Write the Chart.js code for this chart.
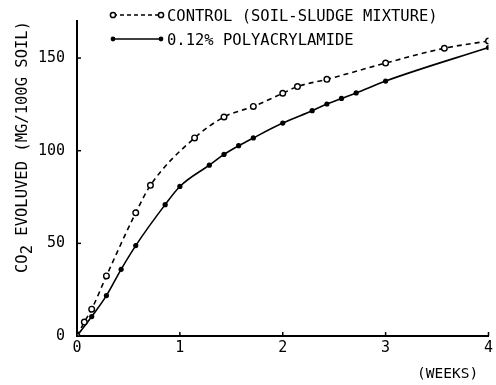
<!DOCTYPE html>
<html>
<head>
<meta charset="utf-8">
<script src="https://cdn.jsdelivr.net/npm/chart.js@4/dist/chart.umd.min.js"></script>
<style>
html,body{margin:0;padding:0;background:#fff;}
#wrap{width:496px;height:385px;position:relative;}
</style>
</head>
<body>
<div id="wrap"><canvas id="c" width="496" height="385"></canvas></div>
<script>
// Data (x in weeks, y in mg CO2 / 100 g soil)
const weeksControl = [0, 0.071, 0.143, 0.286, 0.571, 0.714, 1.143, 1.429, 1.714, 2.0, 2.143, 2.429, 3.0, 3.571, 4.0];
const co2Control   = [0, 7.5, 14.5, 32.4, 66.5, 81.3, 106.9, 118.2, 123.9, 131.0, 134.6, 138.5, 147.3, 155.3, 159.2];
const weeksPolymer = [0, 0.143, 0.286, 0.429, 0.571, 0.857, 1.0, 1.286, 1.429, 1.571, 1.714, 2.0, 2.286, 2.429, 2.571, 2.714, 3.0, 4.0];
const co2Polymer   = [0, 10.5, 21.8, 36.0, 48.8, 70.9, 80.7, 92.2, 98.0, 102.7, 106.9, 114.9, 121.6, 125.2, 128.2, 131.2, 137.6, 155.7];
const xTickValues = [0, 1, 2, 3, 4];
const yTickValues = [0, 50, 100, 150];
const seriesNames = ["CONTROL (SOIL-SLUDGE MIXTURE)", "0.12% POLYACRYLAMIDE"];
const yTitleParts = ["CO", "2", " EVOLUVED (MG/100G SOIL)"];
const xTitle = "(WEEKS)";

const FONT = '"DejaVu Sans Mono", "Liberation Mono", monospace';
const pts = (xs, ys) => xs.map((x, i) => ({x: x, y: ys[i]}));

const extras = {
  id: 'extras',
  afterDraw(chart) {
    const ctx = chart.ctx;
    const xs = chart.scales.x, ys = chart.scales.y;
    ctx.save();
    ctx.strokeStyle = '#000';
    ctx.fillStyle = '#000';
    ctx.lineWidth = 1.5;
    // inward tick marks
    xTickValues.forEach(v => {
      const px = xs.getPixelForValue(v);
      ctx.beginPath(); ctx.moveTo(px, ys.bottom); ctx.lineTo(px, ys.bottom - 4); ctx.stroke();
    });
    yTickValues.forEach(v => {
      const py = ys.getPixelForValue(v);
      ctx.beginPath(); ctx.moveTo(xs.left, py); ctx.lineTo(xs.left + 4, py); ctx.stroke();
    });
    // legend
    const drawSample = (y, dashed) => {
      const x0 = 113, x1 = 161;
      ctx.lineWidth = 1.5;
      ctx.setLineDash(dashed ? [4, 3] : []);
      ctx.beginPath(); ctx.moveTo(x0, y); ctx.lineTo(x1, y); ctx.stroke();
      ctx.setLineDash([]);
      [x0, x1].forEach(x => {
        ctx.beginPath(); ctx.arc(x, y, dashed ? 2.6 : 2.4, 0, Math.PI * 2);
        if (dashed) { ctx.fillStyle = '#fff'; ctx.fill(); ctx.stroke(); ctx.fillStyle = '#000'; }
        else { ctx.fill(); }
      });
    };
    drawSample(15, true);
    drawSample(39, false);
    ctx.font = '15.5px ' + FONT;
    ctx.textBaseline = 'alphabetic';
    ctx.textAlign = 'left';
    ctx.fillText(seriesNames[0], 167, 20.5);
    ctx.fillText(seriesNames[1], 167, 44.5);
    // x title
    ctx.font = '14.5px ' + FONT;
    ctx.fillText(xTitle, 417, 378);
    // y title (rotated)
    ctx.translate(27, 273);
    ctx.rotate(-Math.PI / 2);
    ctx.font = '15.5px ' + FONT;
    let off = 0;
    ctx.fillText(yTitleParts[0], off, 0);
    off += ctx.measureText(yTitleParts[0]).width;
    ctx.fillText(yTitleParts[1], off, 5);
    off += ctx.measureText(yTitleParts[1]).width;
    ctx.fillText(yTitleParts[2], off, 0);
    ctx.restore();
  }
};

new Chart(document.getElementById('c'), {
  type: 'scatter',
  data: {
    datasets: [
      {
        label: seriesNames[0],
        data: pts(weeksControl, co2Control),
        showLine: true,
        borderColor: '#000',
        borderWidth: 1.6,
        borderDash: [5, 4],
        cubicInterpolationMode: 'monotone',
        pointRadius: 2.8,
        pointBorderWidth: 1.4,
        pointBackgroundColor: '#fff',
        pointBorderColor: '#000'
      },
      {
        label: seriesNames[1],
        data: pts(weeksPolymer, co2Polymer),
        showLine: true,
        borderColor: '#000',
        borderWidth: 1.6,
        cubicInterpolationMode: 'monotone',
        pointRadius: 2.6,
        pointBorderWidth: 0,
        pointBackgroundColor: '#000',
        pointBorderColor: '#000'
      }
    ]
  },
  options: {
    responsive: false,
    animation: false,
    devicePixelRatio: 1,
    layout: { padding: { top: 16, right: 5, left: 0, bottom: 0 } },
    plugins: { legend: { display: false }, tooltip: { enabled: false }, title: { display: false } },
    scales: {
      x: {
        type: 'linear',
        min: 0, max: 4,
        afterBuildTicks: s => { s.ticks = xTickValues.map(v => ({ value: v })); },
        afterFit: s => { s.height = 49; },
        grid: { drawOnChartArea: false, drawTicks: false },
        border: { color: '#000', width: 2 },
        ticks: { color: '#000', padding: 3, font: { family: FONT, size: 15 }, maxRotation: 0 }
      },
      y: {
        type: 'linear',
        min: 0, max: 170,
        afterBuildTicks: s => { s.ticks = yTickValues.map(v => ({ value: v })); },
        afterFit: s => { s.width = 77; },
        grid: { drawOnChartArea: false, drawTicks: false },
        border: { color: '#000', width: 2 },
        ticks: { color: '#000', padding: 12, font: { family: FONT, size: 15 } }
      }
    }
  },
  plugins: [extras]
});
</script>
</body>
</html>
